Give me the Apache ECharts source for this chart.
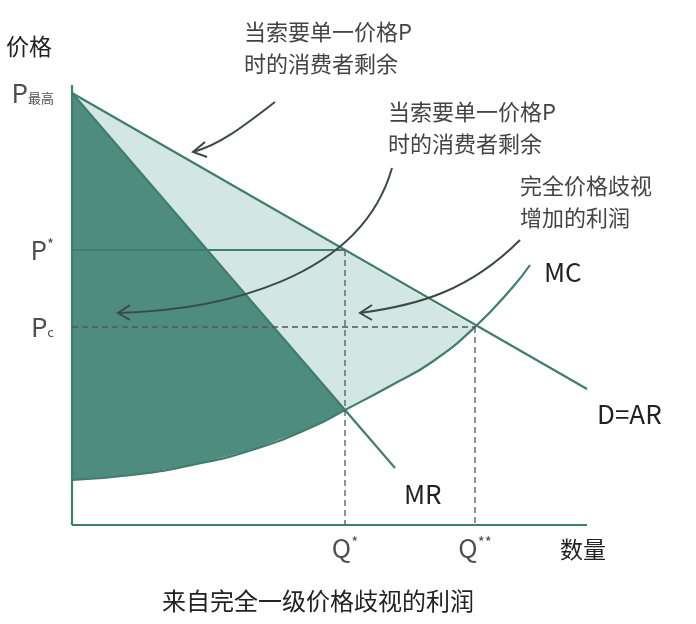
<!DOCTYPE html>
<html><head><meta charset="utf-8">
<script src="https://cdn.jsdelivr.net/npm/echarts@6/dist/echarts.min.js"></script>
<style>body{margin:0}#c{width:696px;height:624px}</style></head>
<body><div id="c"></div>
<script>
// data units equal pixels: x from left axis, y up from bottom axis
const pTop = 432, pStar = 275, pC = 198;
const qStar = 273, qStar2 = 403;
const demand = [[0, 432], [515, 136]];
const mr = [[0, 432], [323, 57]];
const mc = [[0, 45], [60, 50], [120, 60], [180, 75], [240, 98], [273, 115], [320, 140], [360, 163], [403, 198], [440, 237], [458, 260]];
const yTicks = [['P', '最高', pTop, 'sub'], ['P', '*', pStar, 'sup'], ['P', 'c', pC, 'sub']];
const xTicks = [['Q', '*', qStar, 'sup'], ['Q', '**', qStar2, 'sup']];

const line = '#3f7d6e', font = 'Noto Sans CJK SC';
const darkPoly = [[0, pTop], [qStar, 115]].concat(mc.filter(p => p[0] < qStar).reverse());
const lightPoly = [[0, pTop], [qStar2, pC]].concat(mc.filter(p => p[0] > qStar && p[0] < qStar2).reverse(), [[qStar, 115]]);
const rich = {
  sub: { fontSize: 13, fontFamily: font, color: '#222', padding: [10, 0, 0, 0] },
  sup: { fontSize: 15, fontFamily: font, color: '#222', padding: [0, 0, 12, 0] }
};

function poly(pts, color) {
  return {
    type: 'custom', silent: true, z: 1, data: [0],
    renderItem: (params, api) => ({ type: 'polygon', shape: { points: pts.map(p => api.coord(p)) }, style: { fill: color } })
  };
}
function seg(data, dashed) {
  return { type: 'line', data: data, symbol: 'none', silent: true, z: 3,
    lineStyle: { color: dashed ? '#555' : line, width: dashed ? 1.3 : 2.2, type: dashed ? [6, 4] : 'solid' } };
}
function arrow(c, head) {
  return [{ type: 'bezierCurve', z: 100, shape: { x1: c[0], y1: c[1], cpx1: c[2], cpy1: c[3], cpx2: c[4], cpy2: c[5], x2: c[6], y2: c[7] }, style: { stroke: '#3a4a46', lineWidth: 2, fill: null } },
          { type: 'polyline', z: 100, shape: { points: head }, style: { stroke: '#3a4a46', lineWidth: 2, fill: null } }];
}
const txt = (x, y, s, size, color) => ({ type: 'text', z: 100, x: x, y: y, style: { text: s, font: (size || 22) + 'px "' + font + '"', fill: color || '#444', lineHeight: 32 } });
const tickFmt = p => p.data[2] + '{' + p.data[4] + '|' + p.data[3] + '}';

const chart = echarts.init(document.getElementById('c'));
chart.setOption({
  animation: false,
  grid: { left: 72, right: 0, top: 0, bottom: 99 },
  xAxis: { type: 'value', min: 0, max: 624, show: false },
  yAxis: { type: 'value', min: 0, max: 525, show: false },
  series: [
    poly(darkPoly, '#4e8d7d'),
    poly(lightPoly, '#d3e7e2'),
    seg([[0, 0], [0, 440]]), seg([[0, 0], [515, 0]]),
    seg(demand), seg(mr),
    { type: 'line', data: mc, smooth: true, symbol: 'none', silent: true, z: 3, lineStyle: { color: line, width: 2.2 } },
    seg([[0, pStar], [qStar, pStar]]),
    seg([[0, pC], [qStar2, pC]], true),
    seg([[qStar, pStar], [qStar, 0]], true),
    seg([[qStar2, pC], [qStar2, 0]], true),
    { type: 'scatter', data: yTicks.map(t => [0, t[2], t[0], t[1], t[3]]), symbolSize: 0, silent: true,
      label: { show: true, position: 'left', distance: 18, formatter: tickFmt, fontSize: 26, fontFamily: font, color: '#222', rich: rich } },
    { type: 'scatter', data: xTicks.map(t => [t[2], 0, t[0], t[1], t[3]]), symbolSize: 0, silent: true,
      label: { show: true, position: 'bottom', distance: 10, formatter: tickFmt, fontSize: 26, fontFamily: font, color: '#222', rich: rich } }
  ],
  graphic: [
    txt(6, 30, '价格', 23, '#222'),
    txt(560, 533, '数量', 23, '#222'),
    txt(244, 16, '当索要单一价格P\n时的消费者剩余'),
    txt(388, 96, '当索要单一价格P\n时的消费者剩余'),
    txt(520, 170, '完全价格歧视\n增加的利润'),
    txt(544, 256, 'MC', 26, '#222'),
    txt(597, 398, 'D=AR', 26, '#222'),
    txt(404, 478, 'MR', 26, '#222'),
    txt(162, 585, '来自完全一级价格歧视的利润', 24, '#222')
  ].concat(
    arrow([275, 102, 245, 125, 220, 145, 193, 152], [[205, 142], [193, 152], [207, 157]]),
    arrow([392, 168, 360, 280, 220, 310, 118, 313], [[130, 305], [118, 313], [130, 320]]),
    arrow([520, 240, 470, 290, 420, 305, 360, 313], [[372, 305], [360, 313], [372, 320]])
  )
});
</script></body></html>
